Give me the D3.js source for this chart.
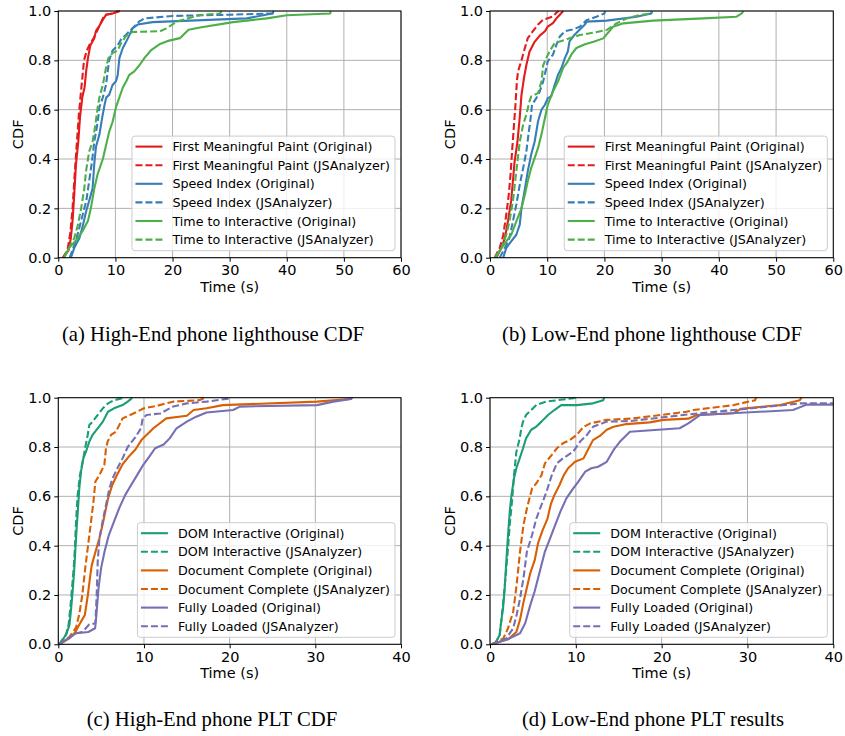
<!DOCTYPE html>
<html>
<head>
<meta charset="utf-8">
<script src="https://cdn.jsdelivr.net/npm/d3@7"></script>
<style>
  html, body { margin: 0; padding: 0; background: #fff; }
  svg { display: block; }
</style>
</head>
<body>
<svg id="chart" width="845" height="736"></svg>
<script>
// ---------- DATA (time in seconds, cumulative fraction) ----------
const yTicks = [0, 0.2, 0.4, 0.6, 0.8, 1.0];
const xTicksLighthouse = [0, 10, 20, 30, 40, 50, 60];
const xTicksPLT = [0, 10, 20, 30, 40];

const lighthouseLabels = [
  "First Meaningful Paint (Original)", "First Meaningful Paint (JSAnalyzer)",
  "Speed Index (Original)", "Speed Index (JSAnalyzer)",
  "Time to Interactive (Original)", "Time to Interactive (JSAnalyzer)"
];
const pltLabels = [
  "DOM Interactive (Original)", "DOM Interactive (JSAnalyzer)",
  "Document Complete (Original)", "Document Complete (JSAnalyzer)",
  "Fully Loaded (Original)", "Fully Loaded (JSAnalyzer)"
];
const captions = [
  "(a) High-End phone lighthouse CDF", "(b) Low-End phone lighthouse CDF",
  "(c) High-End phone PLT CDF", "(d) Low-End phone PLT results"
];

// (a) High-End lighthouse
const a_fmp_orig = [[0.8,0],[1.8,0.03],[2.2,0.08],[2.5,0.15],[2.8,0.26],[3.1,0.38],[3.5,0.47],[3.8,0.57],[4.2,0.65],[4.6,0.69],[4.9,0.76],[5.2,0.81],[5.6,0.86],[6.3,0.89],[6.6,0.92],[7.2,0.94],[7.8,0.965],[8.4,0.985],[9.5,0.99],[10.8,1.0]];
const a_fmp_jsa = [[0.8,0],[1.6,0.03],[2.1,0.1],[2.5,0.2],[2.9,0.35],[3.2,0.45],[3.6,0.58],[4.0,0.68],[4.3,0.75],[4.5,0.8],[5.0,0.84],[5.6,0.87],[6.2,0.89],[6.8,0.92],[7.4,0.95],[7.9,0.975],[8.3,0.985],[9.5,0.99],[10.5,1.0]];
const a_si_orig = [[2.2,0],[2.8,0.04],[3.7,0.08],[4.3,0.13],[4.9,0.19],[5.4,0.23],[6.0,0.28],[6.3,0.38],[6.6,0.45],[7.2,0.5],[7.7,0.57],[8.1,0.62],[8.4,0.65],[8.9,0.66],[9.5,0.7],[10.1,0.715],[10.4,0.74],[10.7,0.81],[11.3,0.85],[12.2,0.89],[13.0,0.93],[13.9,0.945],[16.5,0.955],[22,0.96],[33,0.97],[37.5,0.99],[37.7,1.0]];
const a_si_jsa = [[2.0,0],[3.1,0.07],[4.0,0.15],[4.9,0.23],[5.4,0.31],[5.9,0.39],[6.3,0.47],[6.9,0.55],[7.2,0.61],[7.8,0.65],[8.35,0.7],[8.65,0.755],[8.9,0.8],[9.5,0.84],[10.4,0.86],[11.0,0.885],[11.9,0.905],[13.0,0.93],[14.2,0.958],[15.1,0.97],[20,0.98],[30,0.985],[37.5,0.99],[37.6,1.0]];
const a_tti_orig = [[1.0,0],[1.9,0.04],[3.1,0.07],[4.3,0.11],[5.2,0.15],[5.7,0.2],[6.3,0.28],[6.9,0.34],[7.8,0.4],[8.4,0.46],[8.9,0.51],[9.5,0.55],[10.1,0.61],[10.7,0.65],[11.3,0.69],[11.9,0.715],[12.4,0.74],[13.3,0.755],[14.2,0.78],[15.1,0.81],[16.2,0.84],[17.7,0.865],[19.4,0.88],[21.3,0.89],[22.8,0.924],[24.8,0.933],[30.6,0.955],[36.5,0.97],[40,0.983],[47.6,0.99],[47.7,1.0]];
const a_tti_jsa = [[1.0,0],[1.9,0.04],[2.8,0.08],[3.4,0.13],[4.0,0.2],[4.55,0.28],[4.85,0.35],[5.4,0.43],[6.0,0.47],[6.5,0.54],[6.9,0.61],[7.2,0.65],[7.8,0.7],[8.35,0.77],[8.8,0.81],[9.5,0.83],[10.4,0.84],[11.0,0.87],[11.9,0.9],[13,0.915],[17.8,0.918],[19,0.93],[20.7,0.957],[24.8,0.984],[28.3,0.99],[28.6,1.0]];

// (b) Low-End lighthouse
const b_fmp_orig = [[1.1,0],[2.0,0.04],[2.6,0.08],[3.15,0.15],[3.7,0.23],[4.0,0.31],[4.3,0.39],[4.8,0.47],[5.2,0.57],[5.5,0.66],[5.95,0.73],[6.35,0.78],[6.9,0.835],[7.8,0.875],[8.7,0.9],[9.6,0.918],[10.1,0.937],[11.0,0.951],[11.6,0.97],[12.2,0.985],[12.8,1.0]];
const b_fmp_jsa = [[0.8,0],[1.7,0.04],[2.3,0.09],[2.85,0.175],[3.3,0.26],[3.6,0.34],[3.9,0.445],[4.2,0.54],[4.45,0.62],[4.7,0.715],[4.9,0.755],[5.5,0.8],[6.1,0.85],[6.6,0.89],[7.5,0.918],[8.4,0.945],[9.3,0.965],[10.1,0.971],[11.0,0.978],[11.6,0.993],[12.0,1.0]];
const b_si_orig = [[2.3,0],[2.85,0.04],[3.7,0.066],[4.6,0.093],[5.2,0.134],[5.5,0.2],[6.1,0.28],[6.6,0.35],[7.2,0.418],[7.8,0.47],[8.4,0.553],[9.0,0.6],[9.6,0.62],[10.1,0.647],[10.7,0.654],[11.3,0.7],[11.9,0.742],[12.5,0.77],[13.1,0.81],[13.6,0.836],[13.9,0.877],[14.8,0.904],[15.7,0.925],[16.6,0.945],[16.9,0.957],[20.4,0.961],[25.6,0.977],[28.2,0.99],[28.3,1.0]];
const b_si_jsa = [[1.7,0],[2.6,0.04],[3.4,0.08],[4.0,0.147],[4.6,0.215],[5.2,0.296],[5.8,0.364],[6.35,0.43],[6.8,0.513],[7.1,0.566],[7.35,0.62],[8.1,0.647],[8.7,0.674],[9.3,0.715],[9.85,0.77],[10.1,0.796],[11.0,0.823],[11.6,0.863],[12.2,0.897],[13.1,0.918],[14.4,0.925],[15.7,0.936],[16.9,0.963],[18.6,0.977],[20.0,0.99],[20.1,1.0]];
const b_tti_orig = [[0.8,0],[2.0,0.039],[2.85,0.066],[3.7,0.093],[4.6,0.147],[5.5,0.2],[6.1,0.256],[6.6,0.31],[7.2,0.364],[7.8,0.404],[8.4,0.445],[9.0,0.5],[9.6,0.566],[10.1,0.62],[11.0,0.674],[11.9,0.715],[12.8,0.77],[13.6,0.796],[14.2,0.823],[15.1,0.85],[16.6,0.865],[18.1,0.875],[19.8,0.889],[21.5,0.936],[23.3,0.95],[28.5,0.961],[37.3,0.97],[43.1,0.977],[44.0,0.99],[44.3,1.0]];
const b_tti_jsa = [[1.0,0],[2.0,0.04],[2.85,0.093],[3.4,0.147],[4.0,0.23],[4.4,0.31],[4.8,0.39],[5.2,0.47],[5.8,0.54],[6.35,0.58],[6.9,0.634],[7.2,0.654],[8.4,0.667],[9.0,0.715],[9.3,0.78],[9.85,0.81],[10.5,0.84],[11.3,0.87],[13.4,0.885],[15.7,0.903],[18.1,0.912],[20.4,0.923],[22.1,0.95],[23.9,0.97],[26.2,0.984],[28.2,0.99],[28.3,1.0]];

// (c) High-End PLT
const c_dom_orig = [[0.1,0],[0.9,0.038],[1.3,0.078],[1.5,0.146],[1.7,0.227],[1.87,0.308],[2.0,0.389],[2.14,0.47],[2.3,0.551],[2.45,0.632],[2.65,0.7],[2.92,0.754],[3.23,0.781],[3.62,0.822],[4.0,0.849],[4.6,0.876],[5.2,0.903],[5.8,0.943],[6.5,0.957],[7.5,0.97],[8.1,0.984],[8.5,0.995],[8.6,1.0]];
const c_dom_jsa = [[0.1,0],[0.9,0.04],[1.2,0.08],[1.4,0.146],[1.6,0.227],[1.8,0.31],[1.95,0.4],[2.07,0.497],[2.26,0.605],[2.53,0.686],[2.92,0.754],[3.15,0.8],[3.43,0.849],[3.62,0.889],[4.0,0.903],[4.6,0.93],[5.2,0.957],[5.8,0.977],[6.5,0.99],[7.8,1.0]];
const c_doc_orig = [[0.1,0],[1.3,0.024],[2.0,0.05],[2.65,0.092],[3.1,0.119],[3.45,0.2],[3.7,0.27],[3.9,0.32],[4.3,0.37],[4.8,0.43],[5.2,0.49],[5.5,0.54],[5.8,0.59],[6.3,0.646],[6.9,0.69],[7.5,0.73],[8.2,0.76],[9.0,0.79],[9.7,0.828],[11.1,0.876],[12.6,0.916],[15.0,0.927],[15.8,0.95],[17.3,0.957],[19.2,0.97],[30.2,0.984],[34.0,0.995],[34.2,1.0]];
const c_doc_jsa = [[0.1,0],[1.3,0.03],[2.07,0.068],[2.45,0.122],[2.8,0.2],[3.15,0.31],[3.43,0.389],[3.82,0.497],[4.1,0.578],[4.33,0.66],[4.8,0.686],[5.37,0.727],[5.57,0.795],[5.76,0.822],[6.15,0.849],[6.73,0.862],[7.5,0.916],[8.7,0.935],[10.0,0.957],[11.4,0.966],[13.4,0.984],[16.5,0.99],[17.1,1.0]];
const c_fl_orig = [[0.1,0],[2.1,0.045],[3.5,0.05],[4.3,0.065],[4.45,0.12],[4.7,0.23],[5.0,0.31],[5.4,0.376],[5.9,0.443],[6.5,0.497],[7.1,0.551],[7.8,0.605],[8.5,0.646],[9.2,0.686],[9.9,0.727],[10.6,0.76],[11.3,0.795],[12.3,0.81],[13.0,0.835],[13.8,0.876],[15.0,0.903],[16.1,0.923],[17.3,0.94],[20.4,0.95],[21.2,0.964],[30.2,0.97],[32.1,0.984],[34.2,0.995],[34.3,1.0]];
const c_fl_jsa = [[0.1,0],[2.1,0.045],[2.8,0.05],[3.6,0.08],[4.33,0.085],[4.48,0.2],[4.6,0.335],[4.8,0.43],[5.18,0.5],[5.57,0.565],[5.96,0.632],[6.34,0.673],[6.9,0.714],[7.5,0.754],[8.1,0.8],[9.0,0.84],[9.65,0.876],[9.85,0.916],[10.3,0.93],[11.9,0.936],[13.4,0.964],[15.0,0.977],[17.3,0.984],[20.0,0.997],[20.05,1.0]];

// (d) Low-End PLT
const d_dom_orig = [[0.55,0],[1.13,0.038],[1.3,0.092],[1.52,0.146],[1.71,0.227],[1.9,0.335],[2.1,0.443],[2.3,0.538],[2.5,0.605],[2.8,0.673],[3.07,0.714],[3.46,0.754],[3.85,0.795],[4.2,0.835],[4.8,0.87],[5.4,0.883],[6.0,0.903],[6.76,0.93],[7.5,0.95],[8.3,0.97],[10.1,0.97],[12.0,0.977],[13.2,0.99],[13.3,1.0]];
const d_dom_jsa = [[0.55,0],[1.13,0.038],[1.3,0.09],[1.63,0.2],[1.9,0.31],[2.1,0.39],[2.3,0.486],[2.56,0.578],[2.8,0.686],[3.07,0.78],[3.46,0.835],[3.65,0.876],[3.85,0.903],[4.2,0.93],[4.8,0.95],[5.4,0.97],[6.5,0.984],[9.5,0.997],[10.1,1.0]];
const d_doc_orig = [[0.2,0],[2.1,0.02],[3.07,0.05],[3.5,0.1],[3.9,0.17],[4.3,0.23],[4.7,0.29],[5.2,0.34],[5.6,0.41],[6.1,0.46],[6.7,0.51],[7.1,0.57],[7.5,0.605],[8.1,0.646],[8.6,0.686],[9.1,0.714],[9.6,0.73],[9.9,0.74],[10.9,0.754],[11.5,0.795],[12.0,0.828],[12.8,0.845],[13.6,0.87],[14.4,0.882],[15.9,0.893],[18.6,0.9],[20.2,0.91],[23.1,0.915],[24.1,0.93],[28.4,0.937],[29.2,0.955],[33.8,0.97],[36.1,0.99],[36.3,1.0]];
const d_doc_jsa = [[0.2,0],[1.55,0.024],[2.1,0.065],[2.7,0.132],[3.1,0.24],[3.5,0.376],[3.9,0.484],[4.3,0.551],[4.9,0.632],[5.4,0.653],[6.0,0.686],[6.4,0.734],[7.2,0.768],[7.8,0.795],[8.5,0.815],[9.3,0.828],[10.1,0.849],[10.9,0.882],[11.7,0.896],[13.6,0.91],[16.7,0.916],[22.9,0.943],[23.7,0.95],[28.4,0.97],[30.9,0.99],[31.0,1.0]];
const d_fl_orig = [[0.2,0],[2.3,0.024],[3.5,0.045],[4.1,0.085],[4.7,0.16],[5.2,0.214],[5.8,0.295],[6.4,0.376],[7.0,0.43],[7.6,0.484],[8.2,0.538],[8.9,0.592],[9.7,0.632],[10.3,0.66],[11.1,0.7],[11.8,0.714],[12.6,0.72],[13.6,0.74],[14.4,0.788],[15.15,0.822],[16.3,0.862],[22.1,0.876],[23.1,0.896],[24.5,0.93],[35.3,0.95],[36.9,0.972],[42,0.972]];
const d_fl_jsa = [[0.2,0],[1.9,0.024],[2.7,0.065],[3.1,0.119],[3.5,0.186],[3.9,0.268],[4.3,0.376],[4.9,0.443],[5.4,0.51],[6.0,0.565],[6.6,0.62],[7.2,0.686],[7.8,0.734],[8.5,0.754],[9.7,0.781],[10.5,0.822],[11.3,0.849],[12.0,0.882],[13.6,0.903],[16.3,0.905],[22.5,0.93],[28.4,0.95],[36.1,0.977],[42,0.977]];

const lighthouseColors = ["#e41a1c", "#377eb8", "#4daf4a"];
const pltColors = ["#1b9e77", "#d95f02", "#7570b3"];

// ---------- BUILD ----------
const panels = [
  { id: "a", box: [58.3, 11, 401, 257.7], xMax: 60, xTicks: xTicksLighthouse, labels: lighthouseLabels, colors: lighthouseColors,
    series: [a_fmp_orig, a_fmp_jsa, a_si_orig, a_si_jsa, a_tti_orig, a_tti_jsa], caption: captions[0] },
  { id: "b", box: [490, 11, 833.3, 257.7], xMax: 60, xTicks: xTicksLighthouse, labels: lighthouseLabels, colors: lighthouseColors,
    series: [b_fmp_orig, b_fmp_jsa, b_si_orig, b_si_jsa, b_tti_orig, b_tti_jsa], caption: captions[1] },
  { id: "c", box: [58.3, 397.7, 401, 644.3], xMax: 40, xTicks: xTicksPLT, labels: pltLabels, colors: pltColors,
    series: [c_dom_orig, c_dom_jsa, c_doc_orig, c_doc_jsa, c_fl_orig, c_fl_jsa], caption: captions[2] },
  { id: "d", box: [490, 397.7, 833.3, 644.3], xMax: 40, xTicks: xTicksPLT, labels: pltLabels, colors: pltColors,
    series: [d_dom_orig, d_dom_jsa, d_doc_orig, d_doc_jsa, d_fl_orig, d_fl_jsa], caption: captions[3] }
];

const svg = d3.select("#chart");
const FONT = "'DejaVu Sans', sans-serif";
const captionCenters = [213, 652, 212, 653];
const captionY = [341, 341, 726, 726];

panels.forEach((p, pi) => {
  const [x0, y0, x1, y1] = p.box;
  const x = d3.scaleLinear().domain([0, p.xMax]).range([x0, x1]);
  const y = d3.scaleLinear().domain([0, 1]).range([y1, y0]);
  const g = svg.append("g");

  // grid
  g.append("g").selectAll("line").data(p.xTicks).join("line")
    .attr("x1", d => x(d)).attr("x2", d => x(d)).attr("y1", y0).attr("y2", y1)
    .attr("stroke", "#b0b0b0").attr("stroke-width", 1);
  g.append("g").selectAll("line").data(yTicks).join("line")
    .attr("x1", x0).attr("x2", x1).attr("y1", d => y(d)).attr("y2", d => y(d))
    .attr("stroke", "#b0b0b0").attr("stroke-width", 1);

  // clip
  svg.append("clipPath").attr("id", "clip-" + p.id)
    .append("rect").attr("x", x0).attr("y", y0 - 2).attr("width", x1 - x0).attr("height", y1 - y0 + 4);

  const line = d3.line().x(d => x(d[0])).y(d => y(d[1]));
  const lg = g.append("g").attr("clip-path", `url(#clip-${p.id})`);
  p.series.forEach((s, i) => {
    lg.append("path").attr("d", line(s))
      .attr("fill", "none")
      .attr("stroke", p.colors[Math.floor(i / 2)])
      .attr("stroke-width", 2.1)
      .attr("stroke-linejoin", "round")
      .attr("stroke-dasharray", i % 2 === 1 ? "7,3" : null);
  });

  // axes
  const xAxis = d3.axisBottom(x).tickValues(p.xTicks).tickSize(4).tickPadding(3).tickFormat(d3.format("d"));
  const yAxis = d3.axisLeft(y).tickValues(yTicks).tickSize(4).tickPadding(3).tickFormat(d3.format(".1f"));
  const gx = g.append("g").attr("transform", `translate(0,${y1})`).call(xAxis);
  const gy = g.append("g").attr("transform", `translate(${x0},0)`).call(yAxis);
  [gx, gy].forEach(a => {
    a.select(".domain").remove();
    a.selectAll("text").attr("font-family", FONT).attr("font-size", "14.5px").attr("fill", "#000");
    a.selectAll("line").attr("stroke", "#000");
  });

  // frame
  g.append("rect").attr("x", x0).attr("y", y0).attr("width", x1 - x0).attr("height", y1 - y0)
    .attr("fill", "none").attr("stroke", "#000").attr("stroke-width", 1);

  // axis labels
  g.append("text").attr("x", (x0 + x1) / 2).attr("y", y1 + 34).attr("text-anchor", "middle")
    .attr("font-family", FONT).attr("font-size", "14.5px").text("Time (s)");
  g.append("text").attr("transform", `translate(${x0 - 35},${(y0 + y1) / 2}) rotate(-90)`)
    .attr("text-anchor", "middle").attr("font-family", FONT).attr("font-size", "14.5px").text("CDF");

  // legend
  const rowH = 18.6, lineLen = 27, padL = 3.5, gap = 10, padR = 5;
  const leg = g.append("g");
  const bg = leg.append("rect");
  const texts = [];
  p.labels.forEach((lab, i) => {
    texts.push(leg.append("text").attr("font-family", FONT).attr("font-size", "12.7px").text(lab));
  });
  const maxW = d3.max(texts, t => t.node().getComputedTextLength());
  const boxW = padL + lineLen + gap + maxW + padR;
  const boxH = rowH * 6 + 3;
  const bx = x1 - 6 - boxW, by = y1 - 7 - boxH;
  bg.attr("x", bx).attr("y", by).attr("width", boxW).attr("height", boxH).attr("rx", 3)
    .attr("fill", "#fff").attr("fill-opacity", 0.8).attr("stroke", "#cccccc").attr("stroke-width", 1);
  p.labels.forEach((lab, i) => {
    const cy = by + 10.5 + i * rowH;
    leg.append("line").attr("x1", bx + padL).attr("x2", bx + padL + lineLen).attr("y1", cy).attr("y2", cy)
      .attr("stroke", p.colors[Math.floor(i / 2)]).attr("stroke-width", 2.1)
      .attr("stroke-dasharray", i % 2 === 1 ? "7,3" : null);
    texts[i].attr("x", bx + padL + lineLen + gap).attr("y", cy + 4.5);
  });

  // caption
  svg.append("text").attr("x", captionCenters[pi]).attr("y", captionY[pi]).attr("text-anchor", "middle")
    .attr("font-family", "'Liberation Serif', serif").attr("font-size", "20.7px").text(p.caption);
});
</script>
</body>
</html>
